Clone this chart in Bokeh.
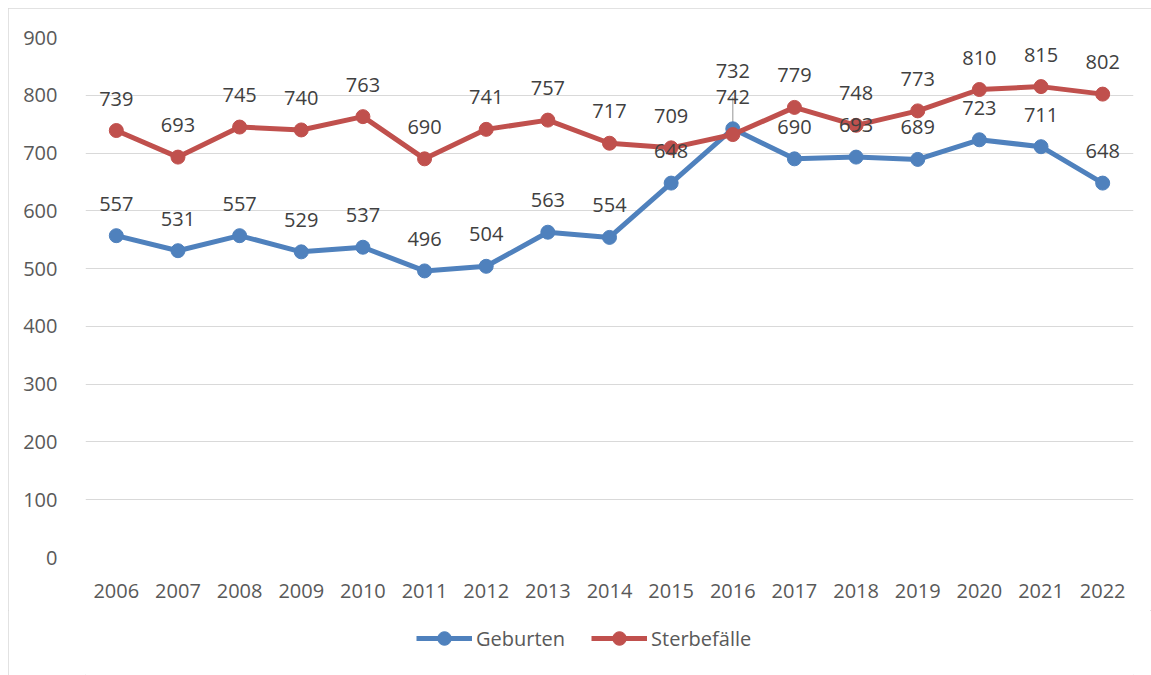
from bokeh.plotting import figure
from bokeh.layouts import column
from bokeh.models import ColumnDataSource, Legend, LegendItem, FactorRange, Range1d
from bokeh.core.properties import value
from bokeh.embed import file_html
from bokeh.resources import INLINE

years = ["2006", "2007", "2008", "2009", "2010", "2011", "2012", "2013", "2014",
         "2015", "2016", "2017", "2018", "2019", "2020", "2021", "2022"]
geburten = [557, 531, 557, 529, 537, 496, 504, 563, 554, 648, 742, 690, 693, 689, 723, 711, 648]
sterbefaelle = [739, 693, 745, 740, 763, 690, 741, 757, 717, 709, 732, 779, 748, 773, 810, 815, 802]
y_ticks = [0, 100, 200, 300, 400, 500, 600, 700, 800, 900]
series_names = ["Geburten", "Sterbefälle"]

BLUE = "#4F81BD"
RED = "#C0504D"
FONT = "Open Sans"
FS = "20px"

W = 1143
TOP, FRAME_H, BOTTOM = 29, 520, 53
H_MAIN = TOP + FRAME_H + BOTTOM
H_LEG = 65

p = figure(width=W, height=H_MAIN, x_range=FactorRange(factors=years, range_padding=0),
           y_range=Range1d(0, 900), output_backend="svg", toolbar_location=None,
           min_border_left=77, min_border_right=18, min_border_top=TOP, min_border_bottom=BOTTOM)
p.outline_line_color = None
p.background_fill_color = "white"
p.border_fill_color = "white"

p.xgrid.grid_line_color = None
p.ygrid.grid_line_color = "#D9D9D9"
p.ygrid.grid_line_width = 1
p.yaxis.ticker = y_ticks
for ax in (p.xaxis, p.yaxis):
    ax.axis_line_color = None
    ax.major_tick_line_color = None
    ax.minor_tick_line_color = None
    ax.major_label_text_font = FONT
    ax.major_label_text_font_size = FS
    ax.major_label_text_color = "#595959"
p.yaxis.major_label_standoff = 22
p.xaxis.major_label_standoff = 20

src = ColumnDataSource(dict(x=years, g=geburten, s=sterbefaelle,
                            gl=[str(v) for v in geburten]))

# leader line for 2016 Sterbefälle label
i16 = years.index("2016")
px_per_unit = FRAME_H / 900.0
p.segment(x0=[years[i16]], x1=[years[i16]], y0=[sterbefaelle[i16]],
          y1=[sterbefaelle[i16] + 37 / px_per_unit], line_color="#A6A6A6", line_width=1.2)

p.line("x", "g", source=src, line_color=BLUE, line_width=5)
p.scatter("x", "g", source=src, size=14, fill_color=BLUE, line_color=BLUE)
p.line("x", "s", source=src, line_color=RED, line_width=5)
p.scatter("x", "s", source=src, size=14, fill_color=RED, line_color=RED)

p.text("x", "g", text="gl", source=src, y_offset=-32,
       text_align="center", text_baseline="middle", text_font=value(FONT),
       text_font_size=FS, text_color="#404040")
s_idx = [i for i in range(len(years)) if i != i16]
p.text([years[i] for i in s_idx], [sterbefaelle[i] for i in s_idx],
       text=[str(sterbefaelle[i]) for i in s_idx], y_offset=-32,
       text_align="center", text_baseline="middle", text_font=value(FONT),
       text_font_size=FS, text_color="#404040")
p.text([years[i16]], [sterbefaelle[i16]], text=[str(sterbefaelle[i16])], y_offset=-64,
       text_align="center", text_baseline="middle", text_font=value(FONT),
       text_font_size=FS, text_color="#404040")

# legend figure (its frame shows nothing but the legend)
pl = figure(width=W, height=H_LEG, x_range=FactorRange(factors=years, range_padding=0),
            y_range=Range1d(2000, 2001), output_backend="svg", toolbar_location=None,
            x_axis_location=None, y_axis_location=None,
            min_border_left=0, min_border_right=0, min_border_top=0, min_border_bottom=0)
pl.grid.grid_line_color = None
pl.outline_line_color = None
pl.border_fill_color = "white"
items = []
for name, col, vals in zip(series_names, [BLUE, RED], [geburten, sterbefaelle]):
    r1 = pl.line(x=years, y=vals, line_color=col, line_width=5)
    r2 = pl.scatter(x=years, y=vals, size=14, fill_color=col, line_color=col)
    items.append(LegendItem(label=name, renderers=[r1, r2]))
legend = Legend(items=items, orientation="horizontal", location=(331, 20),
                glyph_width=56, glyph_height=34, label_height=20, label_standoff=4,
                spacing=26, padding=0, margin=0, border_line_color=None,
                background_fill_alpha=0,
                label_text_font=FONT, label_text_font_size=FS, label_text_color="#595959")
pl.add_layout(legend, "center")

layout = column(p, pl, spacing=0)
layout.margin = (8, 0, 0, 8)
layout.styles = {"outline": "1px solid #D9D9D9", "outline-offset": "-1px"}

open("out.html", "w").write(file_html(layout, INLINE))
